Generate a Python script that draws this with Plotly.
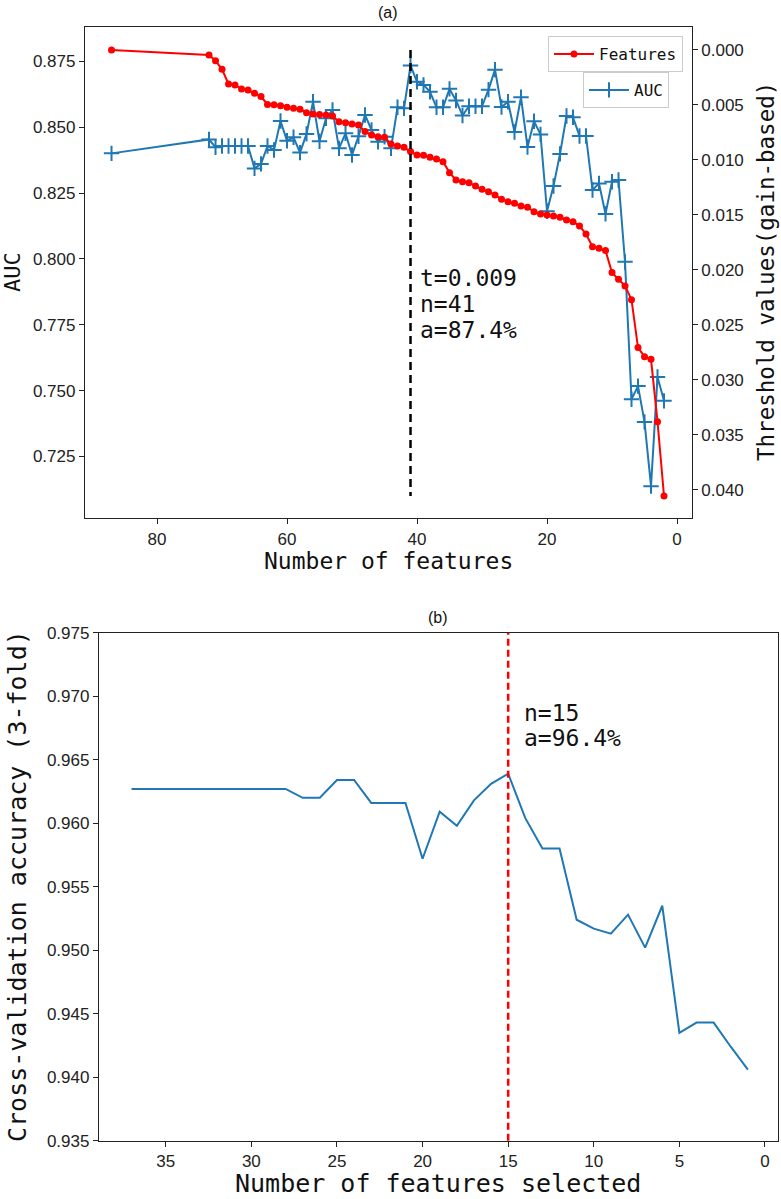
import plotly.graph_objects as go

# ---------------- data: panel (a) ----------------
n_features_a = [87, 72, 71, 70, 69, 68, 67, 66, 65, 64, 63, 62, 61, 60, 59, 58, 57, 56, 55, 54,
                53, 52, 51, 50, 49, 48, 47, 46, 45, 44, 43, 42, 41, 40, 39, 38, 37, 36, 35, 34,
                33, 32, 31, 30, 29, 28, 27, 26, 25, 24, 23, 22, 21, 20, 19, 18, 17, 16, 15, 14,
                13, 12, 11, 10, 9, 8, 7, 6, 5, 4, 3, 2]
threshold_values = [0.00000, 0.00045, 0.00097, 0.00176, 0.00309, 0.00318, 0.00355, 0.00364, 0.00394, 0.00424,
                    0.00495, 0.00497, 0.00506, 0.00521, 0.00530, 0.00539, 0.00570, 0.00582, 0.00587, 0.00590,
                    0.00600, 0.00652, 0.00661, 0.00673, 0.00682, 0.00742, 0.00773, 0.00788, 0.00794, 0.00855,
                    0.00873, 0.00885, 0.00924, 0.00955, 0.00958, 0.00976, 0.00991, 0.01015, 0.01115, 0.01182,
                    0.01197, 0.01206, 0.01236, 0.01267, 0.01288, 0.01318, 0.01358, 0.01379, 0.01394, 0.01418,
                    0.01430, 0.01470, 0.01491, 0.01500, 0.01509, 0.01521, 0.01545, 0.01561, 0.01600, 0.01673,
                    0.01788, 0.01803, 0.01824, 0.02024, 0.02085, 0.02145, 0.02270, 0.02706, 0.02788, 0.02812,
                    0.03379, 0.04055]
auc_values = [0.8401, 0.8454, 0.8424, 0.8429, 0.8429, 0.8429, 0.8429, 0.8429, 0.8344, 0.8361,
              0.8429, 0.8414, 0.8524, 0.8449, 0.8462, 0.8404, 0.8475, 0.8597, 0.8447, 0.8534,
              0.8566, 0.8420, 0.8477, 0.8395, 0.8466, 0.8547, 0.8490, 0.8445, 0.8464, 0.8420,
              0.8576, 0.8572, 0.8735, 0.8673, 0.8661, 0.8635, 0.8576, 0.8576, 0.8646, 0.8602,
              0.8545, 0.8580, 0.8580, 0.8580, 0.8643, 0.8719, 0.8577, 0.8597, 0.8482, 0.8614,
              0.8425, 0.8523, 0.8473, 0.8181, 0.8277, 0.8399, 0.8543, 0.8538, 0.8467, 0.8467,
              0.8262, 0.8287, 0.8171, 0.8293, 0.8300, 0.7989, 0.7467, 0.7517, 0.7381, 0.7137,
              0.7552, 0.7461]
best_n_a = 41
note_a = ["t=0.009", "n=41", "a=87.4%"]

# ---------------- data: panel (b) ----------------
n_features_b = [37, 36, 35, 34, 33, 32, 31, 30, 29, 28, 27, 26, 25, 24, 23, 22, 21, 20, 19,
                18, 17, 16, 15, 14, 13, 12, 11, 10, 9, 8, 7, 6, 5, 4, 3, 2, 1]
cv_accuracy = [0.9627, 0.9627, 0.9627, 0.9627, 0.9627, 0.9627, 0.9627, 0.9627, 0.9627, 0.9627,
               0.9620, 0.9620, 0.9634, 0.9634, 0.9616, 0.9616, 0.9616, 0.9572, 0.9609,
               0.9598, 0.9618, 0.9631, 0.9639, 0.9604, 0.9580, 0.9580, 0.9524, 0.9517, 0.9513,
               0.9528, 0.9502, 0.9535, 0.9435, 0.9443, 0.9443, 0.9424, 0.9406]
best_n_b = 15
note_b = ["n=15", "a=96.4%"]

W, H = 781, 1199
def px(x):
    return x / W
def py(y):
    return 1 - y / H

MONO = "DejaVu Sans Mono"
SANS = "Liberation Sans"
BLUE = "#1f77b4"

fig = go.Figure()

fig.add_trace(go.Scatter(
    x=n_features_a, y=threshold_values, xaxis="x", yaxis="y2", name="Features",
    mode="lines+markers", line=dict(color="#ff0000", width=2),
    marker=dict(symbol="circle", size=7, color="#ff0000"), legend="legend"))
fig.add_trace(go.Scatter(
    x=n_features_a, y=auc_values, xaxis="x", yaxis="y", name="AUC",
    mode="lines+markers", line=dict(color=BLUE, width=2),
    marker=dict(symbol="cross-thin", size=11, line=dict(color=BLUE, width=2)), legend="legend2"))
fig.add_trace(go.Scatter(
    x=[best_n_a, best_n_a], y=[min(threshold_values), max(threshold_values)],
    xaxis="x", yaxis="y2", mode="lines", showlegend=False,
    line=dict(color="black", width=2.5, dash="8px,5px")))

fig.add_trace(go.Scatter(
    x=n_features_b, y=cv_accuracy, xaxis="x2", yaxis="y3", mode="lines",
    line=dict(color=BLUE, width=2), showlegend=False))

axis_common = dict(showline=True, linecolor="#222", linewidth=1.3, mirror=True, automargin=False,
                   ticks="outside", ticklen=5, tickcolor="#222", showgrid=False, zeroline=False,
                   tickfont=dict(family=SANS, size=17, color="#222"))

fig.update_layout(
    width=W, height=H, autosize=False,
    margin=dict(l=0, r=0, t=0, b=0, autoexpand=False),
    paper_bgcolor="white", plot_bgcolor="white",
    xaxis=dict(domain=[px(85), px(691.7)], anchor="y", range=[91.08, -2.26],
               tickvals=[0, 20, 40, 60, 80], **axis_common),
    yaxis=dict(domain=[py(518), py(27)], anchor="x", range=[0.7016, 0.8881],
               tickvals=[0.725, 0.75, 0.775, 0.8, 0.825, 0.85, 0.875], tickformat=".3f",
               **axis_common),
    yaxis2=dict(overlaying="y", side="right", anchor="x", range=[0.04255, -0.00209],
                tickvals=[0, 0.005, 0.01, 0.015, 0.02, 0.025, 0.03, 0.035, 0.04],
                tickformat=".3f", showline=True, linecolor="#222", linewidth=1.3, automargin=False,
                ticks="outside", ticklen=5, tickcolor="#222", showgrid=False, zeroline=False,
                tickfont=dict(family=SANS, size=17, color="#222")),
    xaxis2=dict(domain=[px(99), px(778)], anchor="y3", range=[38.9, -0.76],
                tickvals=[0, 5, 10, 15, 20, 25, 30, 35], **axis_common),
    yaxis3=dict(domain=[py(1140.7), py(632.7)], anchor="x2", range=[0.935, 0.975],
                tickvals=[0.935, 0.94, 0.945, 0.95, 0.955, 0.96, 0.965, 0.97, 0.975],
                tickformat=".3f", **axis_common),
    legend=dict(x=px(683), xanchor="right", y=py(36), yanchor="top",
                bgcolor="rgba(255,255,255,0.85)", bordercolor="#cccccc", borderwidth=1,
                font=dict(family=MONO, size=16, color="#111"), itemwidth=40),
    legend2=dict(x=px(669), xanchor="right", y=py(72), yanchor="top",
                 bgcolor="rgba(255,255,255,0.85)", bordercolor="#cccccc", borderwidth=1,
                 font=dict(family=MONO, size=16, color="#111"), itemwidth=40),
    showlegend=True,
)

fig.add_shape(type="line", xref="x2", yref="y3 domain", x0=best_n_b, x1=best_n_b, y0=0, y1=1,
              line=dict(color="#ff0000", width=2.5, dash="7px,4px"))

ann = []
def text(x, y, s, size, family=MONO, angle=0, xanchor="center", color="#111"):
    ann.append(dict(x=px(x), y=py(y), xref="paper", yref="paper", text=s, showarrow=False,
                    xanchor=xanchor, yanchor="middle", textangle=angle,
                    font=dict(family=family, size=size, color=color)))

text(388, 12, "(a)", 16, family=SANS)
text(388, 561, "Number of features", 23)
text(12, 272, "AUC", 22, angle=-90)
text(766, 272, "Threshold values(gain-based)", 22.5, angle=-90)
for i, line in enumerate(note_a):
    text(418, 278 + 26 * i, line, 23, xanchor="left")

text(438, 617, "(b)", 16, family=SANS)
text(438, 1183, "Number of features selected", 25)
text(17, 886, "Cross-validation accuracy (3-fold)", 25, angle=-90)
for i, line in enumerate(note_b):
    text(522, 713 + 25 * i, line, 23, xanchor="left")

fig.update_layout(annotations=ann)

fig.write_html("out.html", config={"displayModeBar": False},
               post_script="document.body.style.margin='0';document.body.style.padding='0';")
